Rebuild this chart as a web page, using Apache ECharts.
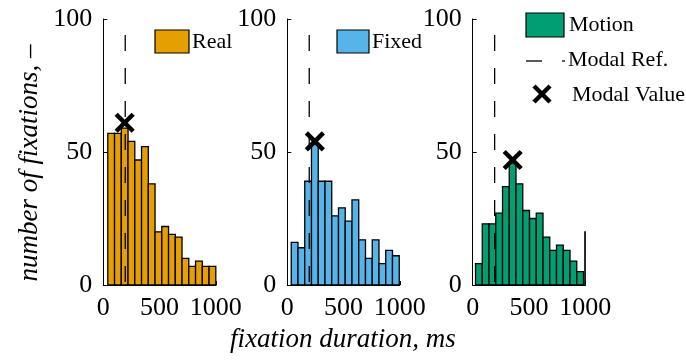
<!DOCTYPE html>
<html><head><meta charset="utf-8">
<script src="https://cdn.jsdelivr.net/npm/echarts@6/dist/echarts.min.js"></script>
<style>html,body{margin:0;padding:0;background:#fff}#c{width:686px;height:360px}</style>
</head><body><div id="c"></div>
<script>
// ---- data ----
const panelNames = ['Real', 'Fixed', 'Motion'];
const panelColors = ['#E69F00', '#56B4E9', '#009E73'];
const binStarts = [40, 35, 25];          // ms, left edge of first histogram bin
const binWidth = 60;                      // ms
const realCounts   = [57, 57, 59, 54, 47, 52, 38, 20, 22, 19, 18, 10, 7, 9, 7, 7];
const fixedCounts  = [16, 14, 39, 53, 39, 39, 26, 29, 24, 32, 17, 10, 17, 8, 13, 11];
const motionCounts = [8, 23, 23, 27, 37, 46, 38, 28, 25, 27, 18, 13, 15, 13, 9, 5];
const motionEdgeSpike = [1000, 20];       // thin spike at 1000 ms
const modalRefX = [195, 195, 195];
const modalRefTop = 94;
const modalValueX = [190, 245, 355];
const modalValueY = [61, 54, 47];
const xTickValues = [0, 500, 1000];
const yTickValues = [0, 50, 100];
const xTitle = 'fixation duration, ms';
const yTitle = 'number of fixations, \u2013';

// ---- layout ----
const FONT = '"Liberation Serif", "Times New Roman", serif';
const gridLefts = [103.3, 287.3, 472.7];
const gridTop = 19, gridW = 112.5, gridH = 266;
const counts = [realCounts, fixedCounts, motionCounts];

const chart = echarts.init(document.getElementById('c'), null, {renderer: 'canvas'});

const grids = [], xAxes = [], yAxes = [], series = [];
for (let i = 0; i < 3; i++) {
  grids.push({left: gridLefts[i], top: gridTop, width: gridW, height: gridH, containLabel: false});
  xAxes.push({
    type: 'value', gridIndex: i, min: xTickValues[0], max: xTickValues[2], interval: xTickValues[1] - xTickValues[0],
    axisLine: {show: true, onZero: false, lineStyle: {color: '#000', width: 1}},
    axisTick: {show: true, inside: true, length: 4, lineStyle: {color: '#000'}},
    axisLabel: {show: true, color: '#000', fontFamily: FONT, fontSize: 26, margin: 10, formatter: v => String(v)},
    splitLine: {show: false}
  });
  yAxes.push({
    type: 'value', gridIndex: i, min: yTickValues[0], max: yTickValues[2], interval: yTickValues[1] - yTickValues[0],
    axisLine: {show: true, onZero: false, lineStyle: {color: '#000', width: 1}},
    axisTick: {show: true, inside: true, length: 4, lineStyle: {color: '#000'}},
    axisLabel: {show: true, color: '#000', fontFamily: FONT, fontSize: 26, margin: 11, formatter: v => String(v)},
    splitLine: {show: false}
  });
  const data = counts[i].map((c, k) => [binStarts[i] + k * binWidth, binStarts[i] + (k + 1) * binWidth, c]);
  if (i === 2) data.push([motionEdgeSpike[0] - 3, motionEdgeSpike[0], motionEdgeSpike[1]]);
  const col = panelColors[i];
  series.push({
    type: 'custom', xAxisIndex: i, yAxisIndex: i, clip: false, z: 2,
    encode: {x: [0, 1], y: 2},
    data: data,
    renderItem: function (params, api) {
      const p0 = api.coord([api.value(0), api.value(2)]);
      const p1 = api.coord([api.value(1), 0]);
      return {type: 'rect', shape: {x: p0[0], y: p0[1], width: p1[0] - p0[0], height: p1[1] - p0[1]},
        style: {fill: col, stroke: '#000', lineWidth: 1.3}};
    }
  });
  series.push({
    type: 'line', xAxisIndex: i, yAxisIndex: i, z: 5, symbol: 'none', silent: true,
    data: [[modalRefX[i], modalRefTop], [modalRefX[i], 0]],
    lineStyle: {color: '#000', width: 1.3, type: [16, 17]}
  });
  series.push({
    type: 'custom', xAxisIndex: i, yAxisIndex: i, clip: false, z: 6,
    encode: {x: 0, y: 1},
    data: [[modalValueX[i], modalValueY[i]]],
    renderItem: function (params, api) {
      const c = api.coord([api.value(0), api.value(1)]);
      const r = 8.5;
      return {type: 'group', children: [
        {type: 'line', shape: {x1: c[0] - r, y1: c[1] - r, x2: c[0] + r, y2: c[1] + r}, style: {stroke: '#000', lineWidth: 4.5}},
        {type: 'line', shape: {x1: c[0] - r, y1: c[1] + r, x2: c[0] + r, y2: c[1] - r}, style: {stroke: '#000', lineWidth: 4.5}}
      ]};
    }
  });
}

const legendFont = '22px ' + FONT;
const graphic = [
  {type: 'rect', shape: {x: 155, y: 30, width: 34, height: 23}, style: {fill: panelColors[0], stroke: '#000', lineWidth: 1.2}},
  {type: 'text', x: 192, y: 42, style: {text: panelNames[0], font: legendFont, fill: '#000', verticalAlign: 'middle'}},
  {type: 'rect', shape: {x: 337, y: 30, width: 32, height: 23}, style: {fill: panelColors[1], stroke: '#000', lineWidth: 1.2}},
  {type: 'text', x: 372, y: 42, style: {text: panelNames[1], font: legendFont, fill: '#000', verticalAlign: 'middle'}},
  {type: 'rect', shape: {x: 526, y: 13, width: 38, height: 24}, style: {fill: panelColors[2], stroke: '#000', lineWidth: 1.2}},
  {type: 'text', x: 569, y: 25, style: {text: panelNames[2], font: legendFont, fill: '#000', verticalAlign: 'middle'}},
  {type: 'line', shape: {x1: 526, y1: 61, x2: 542, y2: 61}, style: {stroke: '#000', lineWidth: 1.3}},
  {type: 'line', shape: {x1: 562, y1: 61, x2: 565, y2: 61}, style: {stroke: '#000', lineWidth: 1.3}},
  {type: 'text', x: 568, y: 60, style: {text: 'Modal Ref.', font: legendFont, fill: '#000', verticalAlign: 'middle'}},
  {type: 'line', shape: {x1: 534, y1: 86, x2: 550, y2: 102}, style: {stroke: '#000', lineWidth: 4.5}},
  {type: 'line', shape: {x1: 534, y1: 102, x2: 550, y2: 86}, style: {stroke: '#000', lineWidth: 4.5}},
  {type: 'text', x: 572, y: 95, style: {text: 'Modal Value', font: legendFont, fill: '#000', verticalAlign: 'middle'}},
  {type: 'text', x: 343, y: 340, style: {text: xTitle, font: 'italic 27px ' + FONT, fill: '#000', align: 'center', verticalAlign: 'middle'}},
  {type: 'text', x: 30, y: 163, rotation: Math.PI / 2, style: {text: yTitle, font: 'italic 27px ' + FONT, fill: '#000', align: 'center', verticalAlign: 'middle'}}
];

chart.setOption({
  animation: false,
  backgroundColor: '#fff',
  grid: grids, xAxis: xAxes, yAxis: yAxes, series: series, graphic: graphic
});
</script>
</body></html>
